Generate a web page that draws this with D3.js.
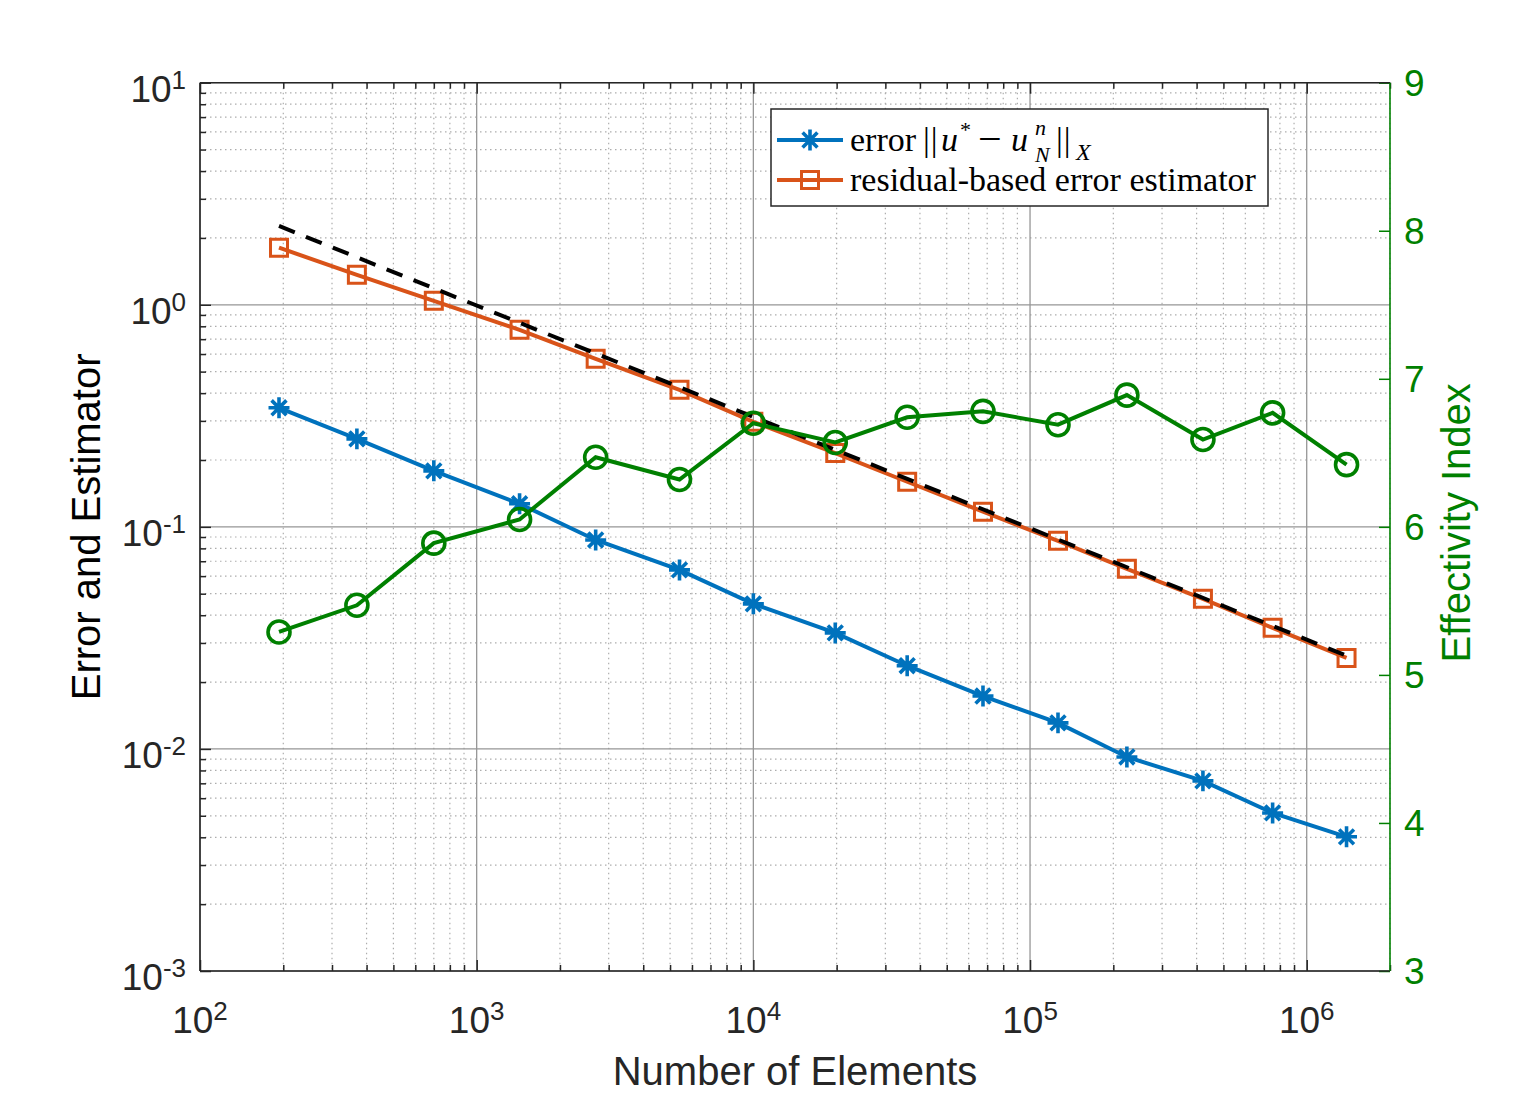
<!DOCTYPE html>
<html>
<head>
<meta charset="utf-8">
<script src="https://cdn.jsdelivr.net/npm/d3@7"></script>
<style>
  body { margin: 0; background: #fff; }
</style>
</head>
<body>
<div id="chart"></div>
<script>
// values
var elements = [193, 369, 700, 1429, 2692, 5408, 10000, 19770, 35970, 67600, 126200, 223900, 421600, 753000, 1393000];
var errorVals = [0.3436, 0.249, 0.1787, 0.127, 0.0873, 0.064, 0.045, 0.0333, 0.0237, 0.0173, 0.0131, 0.0092, 0.00718, 0.00515, 0.00402];
var estimatorVals = [1.807, 1.365, 1.042, 0.771, 0.571, 0.414, 0.297, 0.215, 0.1596, 0.117, 0.0865, 0.0647, 0.0474, 0.0351, 0.0257];
var effectivity = [5.29, 5.47, 5.89, 6.05, 6.47, 6.32, 6.70, 6.57, 6.74, 6.78, 6.69, 6.89, 6.59, 6.77, 6.42];
var refLineN = [193, 1393000];
var refLineVals = [2.264, 0.0263];

var xMajorTicks = [1e2, 1e3, 1e4, 1e5, 1e6];
var xTickExp = ["2", "3", "4", "5", "6"];
var yMajorTicks = [1e1, 1e0, 1e-1, 1e-2, 1e-3];
var yTickExp = ["1", "0", "-1", "-2", "-3"];
var yRightTicks = [3, 4, 5, 6, 7, 8, 9];

var svgWidth = 1536;
var svgHeight = 1097;

var margin = {
    top: 82.7,
    right: 146,
    bottom: 126,
    left: 200
};

var width = svgWidth - margin.left - margin.right;
var height = svgHeight - margin.top - margin.bottom;

var blue = "#0072BD";
var orange = "#D95319";
var green = "#008000";
var axisColor = "#262626";
var tickFont = "'Liberation Sans', Arial, Helvetica, sans-serif";

var svg = d3.select("#chart")
    .append("svg")
    .attr("width", svgWidth)
    .attr("height", svgHeight)
    .style("display", "block");

var chartGroup = svg.append("g")
    .attr("transform", `translate(${margin.left}, ${margin.top})`);

var xScale = d3.scaleLog().domain([1e2, 2e6]).range([0, width]);
var yScale = d3.scaleLog().domain([1e-3, 1e1]).range([height, 0]);
var yRight = d3.scaleLinear().domain([3, 9]).range([height, 0]);

var xMinor = xScale.ticks().filter(d => xMajorTicks.indexOf(d) < 0);
var yMinor = yScale.ticks().filter(d => yMajorTicks.indexOf(d) < 0);

// grid
var grid = chartGroup.append("g");
grid.selectAll(".xminor").data(xMinor).enter().append("line")
    .attr("x1", d => xScale(d)).attr("x2", d => xScale(d))
    .attr("y1", 0).attr("y2", height)
    .attr("stroke", "#adadad").attr("stroke-width", 1.2)
    .attr("stroke-dasharray", "1.5,3.5");
grid.selectAll(".yminor").data(yMinor).enter().append("line")
    .attr("y1", d => yScale(d)).attr("y2", d => yScale(d))
    .attr("x1", 0).attr("x2", width)
    .attr("stroke", "#adadad").attr("stroke-width", 1.2)
    .attr("stroke-dasharray", "1.5,3.5");
grid.selectAll(".xmajor").data(xMajorTicks).enter().append("line")
    .attr("x1", d => xScale(d)).attr("x2", d => xScale(d))
    .attr("y1", 0).attr("y2", height)
    .attr("stroke", "#969696").attr("stroke-width", 1.3);
grid.selectAll(".ymajor").data(yMajorTicks).enter().append("line")
    .attr("y1", d => yScale(d)).attr("y2", d => yScale(d))
    .attr("x1", 0).attr("x2", width)
    .attr("stroke", "#969696").attr("stroke-width", 1.3);

// ticks (inward) via d3 axes, labels drawn separately
function tickAxis(axis, transform, color) {
    var g = chartGroup.append("g")
        .attr("transform", transform)
        .call(axis);
    g.select(".domain").remove();
    g.selectAll("text").remove();
    g.selectAll("line").attr("stroke", color).attr("stroke-width", 1.5);
    return g;
}

tickAxis(d3.axisBottom(xScale).tickValues(xMajorTicks).tickSize(-11), `translate(0, ${height})`, axisColor);
tickAxis(d3.axisBottom(xScale).tickValues(xMinor).tickSize(-6), `translate(0, ${height})`, axisColor);
tickAxis(d3.axisTop(xScale).tickValues(xMajorTicks).tickSize(-11), "translate(0,0)", axisColor);
tickAxis(d3.axisTop(xScale).tickValues(xMinor).tickSize(-6), "translate(0,0)", axisColor);
tickAxis(d3.axisLeft(yScale).tickValues(yMajorTicks).tickSize(-11), "translate(0,0)", axisColor);
tickAxis(d3.axisLeft(yScale).tickValues(yMinor).tickSize(-6), "translate(0,0)", axisColor);
tickAxis(d3.axisRight(yRight).tickValues(yRightTicks).tickSize(-11), `translate(${width},0)`, green);

// axis box
chartGroup.append("line").attr("x1", 0).attr("x2", 0).attr("y1", 0).attr("y2", height)
    .attr("stroke", axisColor).attr("stroke-width", 1.6);
chartGroup.append("line").attr("x1", 0).attr("x2", width).attr("y1", height).attr("y2", height)
    .attr("stroke", axisColor).attr("stroke-width", 1.6);
chartGroup.append("line").attr("x1", 0).attr("x2", width).attr("y1", 0).attr("y2", 0)
    .attr("stroke", axisColor).attr("stroke-width", 1.6);
chartGroup.append("line").attr("x1", width).attr("x2", width).attr("y1", 0).attr("y2", height)
    .attr("stroke", green).attr("stroke-width", 1.6);

// tick labels
var xLabels = chartGroup.selectAll(".xlab").data(xMajorTicks).enter().append("text")
    .attr("x", d => xScale(d))
    .attr("y", height + 62)
    .attr("text-anchor", "middle")
    .attr("fill", axisColor)
    .style("font-family", tickFont)
    .style("font-size", "37px");
xLabels.append("tspan").text("10");
xLabels.append("tspan").attr("dy", "-0.5em").style("font-size", "26px").text((d, i) => xTickExp[i]);

var yLabels = chartGroup.selectAll(".ylab").data(yMajorTicks).enter().append("text")
    .attr("x", -14)
    .attr("y", d => yScale(d) + 19)
    .attr("text-anchor", "end")
    .attr("fill", axisColor)
    .style("font-family", tickFont)
    .style("font-size", "37px");
yLabels.append("tspan").text("10");
yLabels.append("tspan").attr("dy", "-0.5em").style("font-size", "26px").text((d, i) => yTickExp[i]);

chartGroup.selectAll(".rlab").data(yRightTicks).enter().append("text")
    .attr("x", width + 14)
    .attr("y", d => yRight(d) + 13)
    .attr("fill", green)
    .style("font-family", tickFont)
    .style("font-size", "37px")
    .text(d => d);

// axis titles
chartGroup.append("text")
    .attr("x", width / 2)
    .attr("y", height + 114)
    .attr("text-anchor", "middle")
    .attr("fill", axisColor)
    .style("font-family", tickFont)
    .style("font-size", "40px")
    .text("Number of Elements");

chartGroup.append("text")
    .attr("transform", `translate(${100 - margin.left}, ${height / 2}) rotate(-90)`)
    .attr("text-anchor", "middle")
    .attr("fill", "#000")
    .style("font-family", tickFont)
    .style("font-size", "40px")
    .text("Error and Estimator");

chartGroup.append("text")
    .attr("transform", `translate(${1470 - margin.left}, ${height / 2 - 4}) rotate(-90)`)
    .attr("text-anchor", "middle")
    .attr("fill", green)
    .style("font-family", tickFont)
    .style("font-size", "40px")
    .text("Effectivity Index");

// data lines
var errLine = d3.line().x((d, i) => xScale(elements[i])).y(d => yScale(d));
var effLine = d3.line().x((d, i) => xScale(elements[i])).y(d => yRight(d));
var refLine = d3.line().x((d, i) => xScale(refLineN[i])).y(d => yScale(d));

var asterisk = {
    draw: function(ctx, size) {
        var r = Math.sqrt(size) / 2;
        var d = r * 0.7071;
        ctx.moveTo(-r, 0); ctx.lineTo(r, 0);
        ctx.moveTo(0, -r); ctx.lineTo(0, r);
        ctx.moveTo(-d, -d); ctx.lineTo(d, d);
        ctx.moveTo(-d, d); ctx.lineTo(d, -d);
    }
};

chartGroup.append("path")
    .datum(errorVals)
    .attr("d", errLine)
    .attr("fill", "none")
    .attr("stroke", blue)
    .attr("stroke-width", 4);
chartGroup.selectAll(".errpt").data(errorVals).enter().append("path")
    .attr("transform", (d, i) => `translate(${xScale(elements[i])}, ${yScale(d)})`)
    .attr("d", d3.symbol().type(asterisk).size(440))
    .attr("fill", "none")
    .attr("stroke", blue)
    .attr("stroke-width", 3.6);

chartGroup.append("path")
    .datum(estimatorVals)
    .attr("d", errLine)
    .attr("fill", "none")
    .attr("stroke", orange)
    .attr("stroke-width", 4);
chartGroup.selectAll(".estpt").data(estimatorVals).enter().append("path")
    .attr("transform", (d, i) => `translate(${xScale(elements[i])}, ${yScale(d)})`)
    .attr("d", d3.symbol().type(d3.symbolSquare).size(289))
    .attr("fill", "none")
    .attr("stroke", orange)
    .attr("stroke-width", 3);

chartGroup.append("path")
    .datum(refLineVals)
    .attr("d", refLine)
    .attr("fill", "none")
    .attr("stroke", "#000")
    .attr("stroke-width", 4)
    .attr("stroke-dasharray", "17,12");

chartGroup.append("path")
    .datum(effectivity)
    .attr("d", effLine)
    .attr("fill", "none")
    .attr("stroke", green)
    .attr("stroke-width", 4);
chartGroup.selectAll(".effpt").data(effectivity).enter().append("circle")
    .attr("cx", (d, i) => xScale(elements[i]))
    .attr("cy", d => yRight(d))
    .attr("r", 11)
    .attr("fill", "none")
    .attr("stroke", green)
    .attr("stroke-width", 3.6);

// legend
var serif = "'Liberation Serif', 'Times New Roman', serif";
var legend = svg.append("g").attr("transform", "translate(771, 109)");
legend.append("rect")
    .attr("width", 497).attr("height", 97)
    .attr("fill", "#fff")
    .attr("stroke", axisColor)
    .attr("stroke-width", 1.5);

legend.append("line").attr("x1", 6).attr("x2", 72).attr("y1", 31).attr("y2", 31)
    .attr("stroke", blue).attr("stroke-width", 4);
legend.append("path").attr("transform", "translate(39, 31)")
    .attr("d", d3.symbol().type(asterisk).size(440))
    .attr("fill", "none").attr("stroke", blue).attr("stroke-width", 3.6);
legend.append("line").attr("x1", 6).attr("x2", 72).attr("y1", 71).attr("y2", 71)
    .attr("stroke", orange).attr("stroke-width", 4);
legend.append("path").attr("transform", "translate(39, 71)")
    .attr("d", d3.symbol().type(d3.symbolSquare).size(289))
    .attr("fill", "none").attr("stroke", orange).attr("stroke-width", 3);

// error ||u* - u_N^n||_X
var l1 = legend.append("text")
    .attr("y", 42)
    .attr("fill", "#000")
    .style("font-family", serif)
    .style("font-size", "34px");
l1.append("tspan").attr("x", 79).text("error");
l1.append("tspan").attr("x", 152).style("letter-spacing", "1px").text("||");
l1.append("tspan").attr("x", 170).style("font-style", "italic").text("u");
l1.append("tspan").attr("x", 189).attr("dy", -14).style("font-size", "22px").text("*");
l1.append("tspan").attr("x", 207).attr("dy", 16).style("font-size", "42px").text("\u2212");
l1.append("tspan").attr("x", 240).attr("dy", -2).style("font-style", "italic").text("u");
l1.append("tspan").attr("x", 264).attr("dy", -16).style("font-size", "22px").style("font-style", "italic").text("n");
l1.append("tspan").attr("x", 264).attr("dy", 27).style("font-size", "22px").style("font-style", "italic").text("N");
l1.append("tspan").attr("x", 285).attr("dy", -11).style("letter-spacing", "1px").text("||");
l1.append("tspan").attr("x", 305).attr("dy", 9).style("font-size", "24px").style("font-style", "italic").text("X");

legend.append("text")
    .attr("x", 79).attr("y", 82)
    .attr("fill", "#000")
    .style("font-family", serif)
    .style("font-size", "34px")
    .text("residual-based error estimator");
</script>
</body>
</html>
